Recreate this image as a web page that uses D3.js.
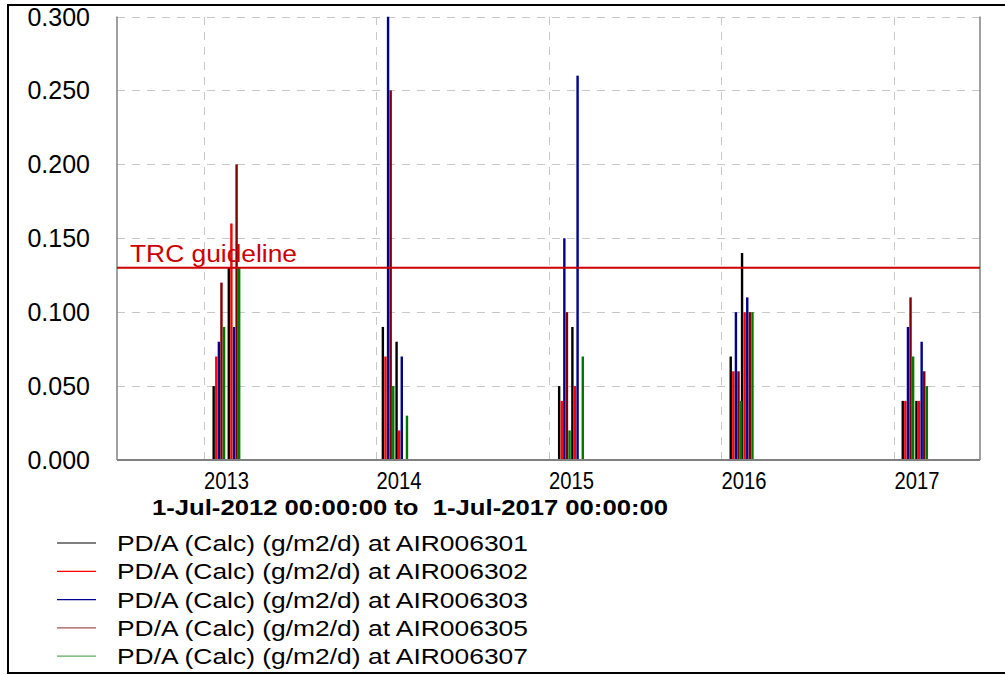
<!DOCTYPE html>
<meta charset="utf-8">
<style>
body {
  margin: 0;
  background-color: #ffffff;
}
text {
  font-family: 'Liberation Sans', Arial, sans-serif;
  fill: #000;
}
.grid line {
  stroke: #c8c8c8;
  stroke-width: 1px;
  stroke-dasharray: 8,7;
  shape-rendering: crispEdges;
}
.grid path {
  display: none;
}
.frame {
  fill: none;
  stroke: #000;
  stroke-width: 2px;
}
</style>
<svg width="1005" height="675"></svg>
<script src="https://d3js.org/d3.v7.min.js"></script>
<script>
// sample dates (two samples each year)
var sampleDates = ["2013-01-19", "2013-02-20", "2014-01-12", "2014-02-10", "2015-01-20",
                   "2015-02-17", "2016-01-18", "2016-02-11", "2017-01-16", "2017-02-14"];

var seriesNames = ["AIR006301", "AIR006302", "AIR006303", "AIR006305", "AIR006307"];
var seriesColors = ["#000000", "#ff0000", "#000090", "#800000", "#007800"];
var legendColors = ["#000000", "#ff0000", "#000090", "#a05555", "#60a860"];

var air006301 = [0.05, 0.13, 0.09, 0.08, 0.05, 0.09, 0.07, 0.14, 0.04, 0.04];
var air006302 = [0.07, 0.16, 0.07, 0.02, 0.04, 0.05, 0.06, 0.10, 0.04, 0.04];
var air006303 = [0.08, 0.09, 0.30, 0.07, 0.15, 0.26, 0.10, 0.11, 0.09, 0.08];
var air006305 = [0.12, 0.20, 0.25, null, 0.10, null, 0.06, 0.10, 0.11, 0.06];
var air006307 = [0.09, 0.13, 0.05, 0.03, 0.02, 0.07, 0.04, 0.10, 0.07, 0.05];

var yTicks = [0, 0.05, 0.10, 0.15, 0.20, 0.25, 0.30];
var guideline = 0.13;

var svg = d3.select("svg"),
    margin = {top: 16.5, right: 25, bottom: 215, left: 117},
    width = +svg.attr("width") - margin.left - margin.right,
    height = +svg.attr("height") - margin.top - margin.bottom;

var parse = d3.timeParse("%Y-%m-%d");
var allValues = [air006301, air006302, air006303, air006305, air006307];

var data = [];
seriesNames.forEach(function(s, i) {
  allValues[i].forEach(function(v, j) {
    if (v != null) data.push({series: s, date: parse(sampleDates[j]), value: v});
  });
});

var x = d3.scaleUtc()
    .domain([new Date(Date.UTC(2012, 6, 1)), new Date(Date.UTC(2017, 6, 1))])
    .range([0, width]);
var y = d3.scaleLinear().domain([0, 0.3]).range([height, 0]);
var offset = d3.scaleBand().domain(seriesNames).range([0, 13]);
var color = d3.scaleOrdinal().domain(seriesNames).range(seriesColors);

// outer frame
svg.append("path").attr("class", "frame")
    .attr("d", "M1010,5H8V673H1010");

var g = svg.append("g")
    .attr("transform", "translate(" + margin.left + "," + margin.top + ")");

var yearTicks = x.ticks(d3.utcYear.every(1));

g.append("g")
    .attr("class", "grid")
    .call(d3.axisLeft(y).tickValues(yTicks).tickSize(-width).tickFormat(""));
g.append("g")
    .attr("class", "grid")
    .attr("transform", "translate(0," + height + ")")
    .call(d3.axisBottom(x).tickValues(yearTicks).tickSize(-height).tickFormat(""));

// plot border
g.append("line").attr("x1", 0).attr("x2", 0).attr("y1", 0).attr("y2", height)
    .attr("stroke", "#808080").attr("stroke-width", 1.5);
g.append("line").attr("x1", width).attr("x2", width).attr("y1", 0).attr("y2", height)
    .attr("stroke", "#808080").attr("stroke-width", 1.5);

g.append("clipPath").attr("id", "clip")
  .append("rect").attr("width", width).attr("height", height);

g.append("g").attr("clip-path", "url(#clip)")
  .selectAll(".bar")
  .data(data)
  .enter().append("rect")
    .attr("class", "bar")
    .attr("x", function(d) { return x(d.date) + offset(d.series); })
    .attr("width", 2.4)
    .attr("y", function(d) { return y(d.value); })
    .attr("height", function(d) { return height - y(d.value); })
    .attr("fill", function(d) { return color(d.series); });

g.append("line").attr("x1", 0).attr("x2", width).attr("y1", height).attr("y2", height)
    .attr("stroke", "#808080").attr("stroke-width", 2);

// guideline
g.append("line")
    .attr("x1", 0).attr("x2", width)
    .attr("y1", y(guideline)).attr("y2", y(guideline))
    .attr("stroke", "#cc0000").attr("stroke-width", 2);
g.append("text")
    .attr("x", 13).attr("y", y(guideline) - 6)
    .style("fill", "#cc0000")
    .attr("font-size", 23)
    .attr("textLength", 167).attr("lengthAdjust", "spacingAndGlyphs")
    .text("TRC guideline");

// y labels
g.selectAll(".ylab")
  .data(yTicks)
  .enter().append("text")
    .attr("class", "ylab")
    .attr("x", -27)
    .attr("y", function(d) { return y(d); })
    .attr("dy", "0.36em")
    .attr("text-anchor", "end")
    .attr("font-size", 25)
    .text(d3.format(".3f"));

// x labels
g.selectAll(".xlab")
  .data(yearTicks)
  .enter().append("text")
    .attr("class", "xlab")
    .attr("x", function(d) { return x(d); })
    .attr("y", height + 29)
    .attr("font-size", 23)
    .attr("textLength", 45).attr("lengthAdjust", "spacingAndGlyphs")
    .text(d3.utcFormat("%Y"));

svg.append("text")
    .attr("x", 152).attr("y", 515)
    .attr("font-size", 22).attr("font-weight", "bold")
    .style("white-space", "pre")
    .attr("textLength", 516).attr("lengthAdjust", "spacingAndGlyphs")
    .text("1-Jul-2012 00:00:00 to  1-Jul-2017 00:00:00");

// legend
var legend = svg.selectAll(".legend")
    .data(seriesNames)
  .enter().append("g")
    .attr("class", "legend")
    .attr("transform", function(d, i) { return "translate(0," + (543 + i * 28.3) + ")"; });

legend.append("line")
    .attr("x1", 57).attr("x2", 96)
    .attr("stroke", function(d, i) { return legendColors[i]; })
    .attr("stroke-width", 1.2);

legend.append("text")
    .attr("x", 117).attr("dy", "0.36em")
    .attr("font-size", 22)
    .attr("textLength", 411).attr("lengthAdjust", "spacingAndGlyphs")
    .text(function(d) { return "PD/A (Calc) (g/m2/d) at " + d; });
</script>
